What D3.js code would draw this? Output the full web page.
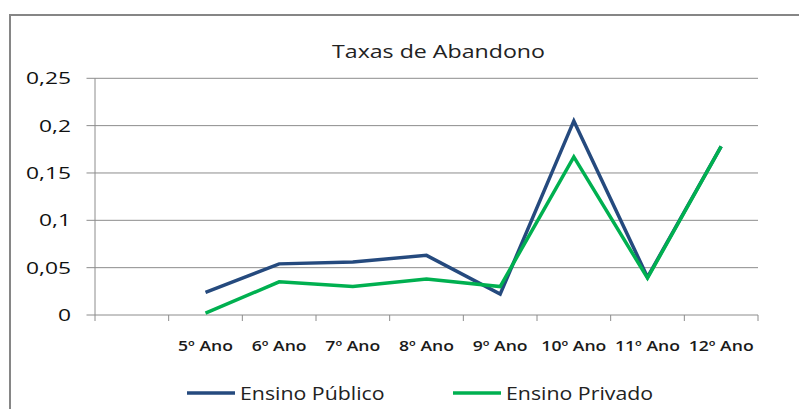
<!DOCTYPE html>
<html>
<head>
<meta charset="utf-8">
<script src="https://cdn.jsdelivr.net/npm/d3@7"></script>
<style>
body { margin: 0; background: #fff; }
svg text { font-family: "Open Sans", sans-serif; }
</style>
</head>
<body>
<script>
// categories (first one is blank in the original sheet)
var categories = ["", "5º Ano", "6º Ano", "7º Ano", "8º Ano", "9º Ano", "10º Ano", "11º Ano", "12º Ano"];
var publico = [null, 0.024, 0.054, 0.056, 0.063, 0.022, 0.205, 0.040, 0.178];
var privado = [null, 0.002, 0.035, 0.030, 0.038, 0.030, 0.167, 0.039, 0.178];
var yTicks = [0, 0.05, 0.1, 0.15, 0.2, 0.25];
var seriesNames = ["Ensino Público", "Ensino Privado"];
var colors = ["#254A7E", "#00B050"];

var width = 799, height = 409;
var svg = d3.select("body").append("svg")
	.attr("width", width)
	.attr("height", height);

// the original picture is a bit stretched sideways, so widen the glyphs too
var stretch = function(sel, k){
	sel.each(function(){
		var w = this.getComputedTextLength();
		if(w > 0) d3.select(this).attr("textLength", w * k).attr("lengthAdjust", "spacingAndGlyphs");
	});
};

// chart frame (cut off on right / bottom)
svg.append("rect")
	.attr("x", 10).attr("y", 15)
	.attr("width", 820).attr("height", 420)
	.attr("fill", "#fff")
	.attr("stroke", "#868686")
	.attr("stroke-width", 2);

var title = svg.append("text")
	.attr("x", 438.5).attr("y", 58)
	.attr("text-anchor", "middle")
	.attr("font-size", 18.5)
	.attr("fill", "#222")
	.text("Taxas de Abandono");
var K = 213 / title.node().getComputedTextLength();
stretch(title, K);

var x = d3.scaleBand().domain(categories).range([95, 758]);
var y = d3.scaleLinear().domain([0, 0.25]).range([315, 78.3]);

var fmt = function(d){ return String(d).replace(".", ","); };

// gridlines with small ticks left of the axis
svg.append("g").selectAll("line.grid").data(yTicks).enter().append("line")
	.attr("class", "grid")
	.attr("x1", 86.5).attr("x2", 758)
	.attr("y1", function(d){ return y(d); })
	.attr("y2", function(d){ return y(d); })
	.attr("stroke", "#8c8c8c");

var yl = svg.append("g").selectAll("text.yl").data(yTicks).enter().append("text")
	.attr("x", 71)
	.attr("y", function(d){ return y(d) + 6; })
	.attr("text-anchor", "end")
	.attr("font-size", 16.5)
	.attr("fill", "#111")
	.text(fmt);
stretch(yl, 1.38);

svg.append("line")
	.attr("x1", 95).attr("x2", 95)
	.attr("y1", y(0.25)).attr("y2", y(0))
	.attr("stroke", "#8c8c8c");

// x axis ticks at band edges
var edges = categories.map(function(c){ return x(c); }).concat([x.range()[1]]);
svg.append("g").selectAll("line.xt").data(edges).enter().append("line")
	.attr("x1", function(d){ return d; }).attr("x2", function(d){ return d; })
	.attr("y1", 315).attr("y2", 321)
	.attr("stroke", "#8c8c8c");

var xl = svg.append("g").selectAll("text.xl").data(categories).enter().append("text")
	.attr("x", function(d){ return x(d) + x.bandwidth() / 2; })
	.attr("y", 351)
	.attr("text-anchor", "middle")
	.attr("font-size", 14.5)
	.attr("font-weight", 600)
	.attr("fill", "#1a1a1a")
	.text(function(d){ return d; });
stretch(xl, K * 0.97);

// lines
var line = d3.line()
	.defined(function(d){ return d.v !== null; })
	.x(function(d){ return x(d.c) + x.bandwidth() / 2; })
	.y(function(d){ return y(d.v); });

[publico, privado].forEach(function(vals, i){
	var pts = categories.map(function(c, j){ return {c: c, v: vals[j]}; });
	svg.append("path")
		.datum(pts)
		.attr("d", line)
		.attr("fill", "none")
		.attr("stroke", colors[i])
		.attr("stroke-width", 3.5)
		.attr("stroke-linejoin", "miter");
});

// legend
var legendX = [187, 453];
seriesNames.forEach(function(name, i){
	svg.append("line")
		.attr("x1", legendX[i]).attr("x2", legendX[i] + 48)
		.attr("y1", 393).attr("y2", 393)
		.attr("stroke", colors[i])
		.attr("stroke-width", 3.5);
	var t = svg.append("text")
		.attr("x", legendX[i] + 53)
		.attr("y", 400)
		.attr("font-size", 18.5)
		.attr("fill", "#222")
		.text(name);
	stretch(t, K * 0.92);
});
</script>
</body>
</html>
